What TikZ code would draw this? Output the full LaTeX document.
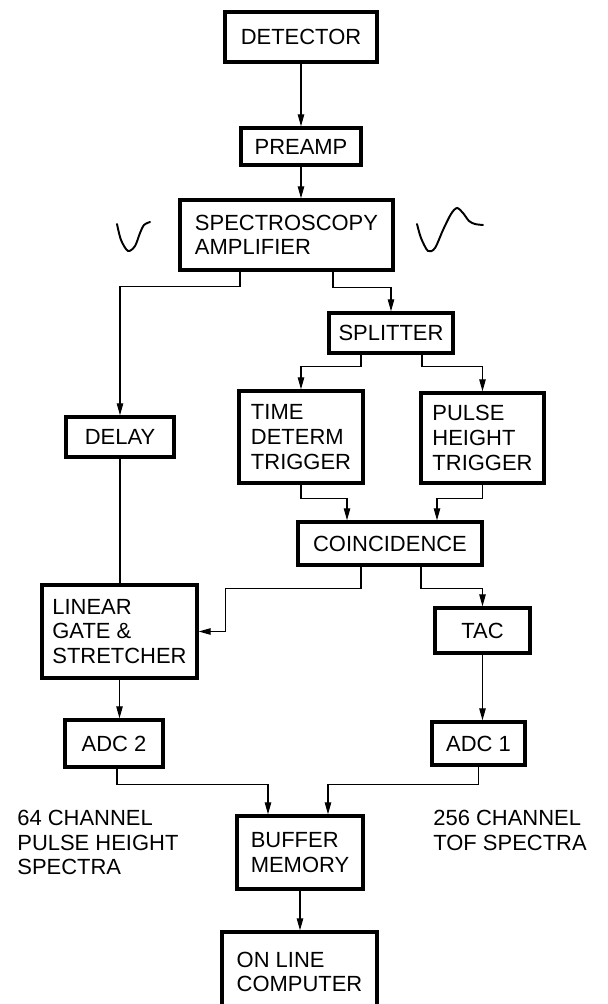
\documentclass[tikz,border=0pt]{standalone}
\usepackage{fontspec}
\setmainfont{Liberation Sans}
\usepackage{tikz}
\usetikzlibrary{arrows.meta,calc,positioning}

\begin{document}
\begin{tikzpicture}[x=0.02cm,y=-0.02cm,>={Triangle[length=2.4mm,width=1.3mm]},
  font=\fontsize{12.5}{14}\selectfont,
  blk/.style={draw,line width=2pt,align=left,inner sep=0pt},
  link/.style={line width=0.6pt},
  wave/.style={line width=1.1pt,line cap=round},
  note/.style={align=left,anchor=north west,inner sep=0pt}]
\useasboundingbox[fill=white] (0,0) rectangle (608,1004);
% main chain
\node[blk,minimum width=3.04cm,minimum height=1.0cm] (det) at (301,37) {DETECTOR};
\node[blk,minimum width=2.4cm,minimum height=0.74cm] (pre) at (301,146.5) {PREAMP};
\node[blk,minimum width=4.26cm,minimum height=1.4cm] (amp) at (286.5,235) {SPECTROSCOPY\\ AMPLIFIER};
\node[blk,minimum width=2.48cm,minimum height=0.8cm] (spl) at (391,333) {SPLITTER};
\node[blk,minimum width=2.48cm,minimum height=1.84cm] (tdt) at (301,437) {TIME\\ DETERM\\ TRIGGER};
\node[blk,minimum width=2.46cm,minimum height=1.8cm] (pht) at (482.5,438) {PULSE\\ HEIGHT\\ TRIGGER};
\node[blk,minimum width=2.16cm,minimum height=0.8cm] (dly) at (120,437) {DELAY};
\node[blk,minimum width=3.68cm,minimum height=0.86cm] (coin) at (390,543.5) {COINCIDENCE};
\node[blk,minimum width=3.1cm,minimum height=1.86cm] (lgs) at (119.5,631.5) {LINEAR\\ GATE \&\\ STRETCHER};
\node[blk,minimum width=1.9cm,minimum height=0.9cm] (tac) at (482.5,630.5) {TAC};
\node[blk,minimum width=1.96cm,minimum height=0.94cm] (adc2) at (114,743.5) {ADC 2};
\node[blk,minimum width=1.86cm,minimum height=0.86cm] (adc1) at (478.5,743.5) {ADC 1};
\node[blk,minimum width=2.52cm,minimum height=1.46cm] (buf) at (300,852.5) {BUFFER\\ MEMORY};
\node[blk,minimum width=3.1cm,minimum height=1.6cm] (olc) at (299.5,972) {ON LINE\\ COMPUTER};
% spectra notes
\node[note] (phs) at (17,810) {64 CHANNEL\\ PULSE HEIGHT\\ SPECTRA};
\node[note] (tof) at (433,810) {256 CHANNEL\\ TOF SPECTRA};
% pulse shapes
\draw[wave] plot[smooth] coordinates {(117,224) (121,240) (128,251) (135,246) (140,233) (144,225) (150,222)};
\draw[wave] plot[smooth] coordinates {(417,224) (421,238) (428,251) (435,248) (443,230) (451,214) (457,208) (463,213) (469,221) (475,224) (483,225)};
% connections
\draw[link,->] (det.south) -- (det.south |- pre.north);
\draw[link,->] (pre.south) -- (pre.south |- amp.north);
\draw[link,->] ([xshift=-0.93cm]amp.south) -- ++(0,15) -| (dly.north);
\draw[link,->] ([xshift=0.93cm]amp.south) -- ++(0,16) -| (spl.north);
\draw[link,->] ([xshift=-0.6cm]spl.south) -- ++(0,12) -| (tdt.north);
\draw[link,->] ([xshift=0.62cm]spl.south) -- ++(0,12) -| (pht.north);
\draw[link,->] (tdt.south) -- ++(0,14) -| ([xshift=-0.86cm]coin.north);
\draw[link,->] (pht.south) -- ++(0,14) -| ([xshift=0.94cm]coin.north);
\draw[link,->] ([xshift=-0.58cm]coin.south) -- ++(0,22) -| ([xshift=0.54cm]lgs.east) -- (lgs.east);
\draw[link,->] ([xshift=0.62cm]coin.south) -- ++(0,22) -| (tac.north);
\draw[link] (dly.south) -- (dly.south |- lgs.north);
\draw[link,->] (lgs.south) -- (lgs.south |- adc2.north);
\draw[link,->] (tac.south) -- (tac.south |- adc1.north);
\draw[link,->] ([xshift=0.06cm]adc2.south) -- ++(0,16) -| ([xshift=-0.64cm]buf.north);
\draw[link,->] (adc1.south) -- ++(0,18) -| ([xshift=0.56cm]buf.north);
\draw[link,->] (buf.south) -- (buf.south |- olc.north);
\end{tikzpicture}
\end{document}
